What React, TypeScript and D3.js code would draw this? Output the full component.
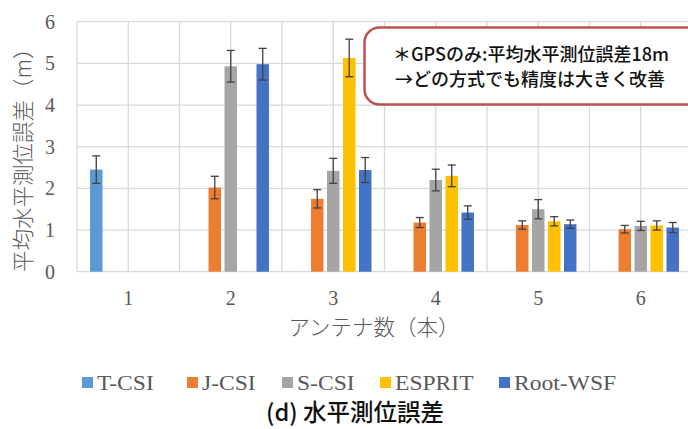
import React from "react";
import * as d3 from "d3";

const categories = ["1", "2", "3", "4", "5", "6"];
const seriesNames = ["T-CSI", "J-CSI", "S-CSI", "ESPRIT", "Root-WSF"];
const seriesColors = ["#5B9BD5", "#ED7D31", "#A5A5A5", "#FFC000", "#4472C4"];
const tCsi = [2.45, null, null, null, null, null];
const jCsi = [null, 2.02, 1.75, 1.18, 1.12, 1.02];
const sCsi = [null, 4.93, 2.42, 2.2, 1.5, 1.1];
const esprit = [null, null, 5.13, 2.3, 1.21, 1.11];
const rootWsf = [null, 4.98, 2.44, 1.42, 1.14, 1.06];
const tCsiErr = [0.33, 0, 0, 0, 0, 0];
const jCsiErr = [0, 0.27, 0.22, 0.12, 0.1, 0.09];
const sCsiErr = [0, 0.38, 0.3, 0.26, 0.23, 0.11];
const espritErr = [0, 0, 0.45, 0.26, 0.11, 0.11];
const rootWsfErr = [0, 0.38, 0.3, 0.16, 0.1, 0.12];
const yTicks = [0, 1, 2, 3, 4, 5, 6];
const yTitle = "平均水平測位誤差（m）";
const xTitle = "アンテナ数（本）";
const chartTitle = "(d) 水平測位誤差";
const noteLine1 = "＊GPSのみ:平均水平測位誤差18m";
const noteLine2 = "→どの方式でも精度は大きく改善";

const values = [tCsi, jCsi, sCsi, esprit, rootWsf];
const errors = [tCsiErr, jCsiErr, sCsiErr, espritErr, rootWsfErr];

export default function App() {
  const W = 688;
  const H = 429;
  const left = 77;
  const right = 692;
  const top = 21.7;
  const bottom = 271.7;

  const x = d3.scaleBand<string>().domain(categories).range([left, right]).paddingInner(0).paddingOuter(0);
  const xs = d3
    .scaleBand<string>()
    .domain(seriesNames)
    .range([0, x.bandwidth()])
    .paddingInner(0.22)
    .paddingOuter(0.815);
  const y = d3.scaleLinear().domain([0, 6]).range([bottom, top]);

  const vGrid: number[] = [];
  categories.forEach((c) => {
    vGrid.push(x(c)!);
    vGrid.push(x(c)! + x.bandwidth() / 2);
  });
  vGrid.push(right);

  const serif = "'Liberation Serif', 'Times New Roman', serif";
  const jp = "'Noto Sans CJK JP', sans-serif";
  const grid = "#d9d9d9";

  const legendX = [82, 187, 282, 380, 499];

  return (
    <svg width={W} height={H} style={{ position: "absolute", left: 0, top: 0, background: "#fff" }}>
      <rect x={0} y={0} width={W} height={H} fill="#fff" />
      {yTicks.map((t) => (
        <line key={"h" + t} x1={left} x2={right} y1={y(t)} y2={y(t)} stroke={grid} strokeWidth={1.3} />
      ))}
      {vGrid.map((gx, i) => (
        <line key={"v" + i} x1={gx} x2={gx} y1={top} y2={bottom} stroke={grid} strokeWidth={1.3} />
      ))}
      {yTicks.map((t) => (
        <text
          key={"yt" + t}
          x={50}
          y={y(t)}
          dy="0.35em"
          textAnchor="middle"
          fontFamily={serif}
          fontSize={20}
          fill="#595959"
        >
          {t}
        </text>
      ))}
      {categories.map((c) => (
        <text
          key={"xt" + c}
          x={x(c)! + x.bandwidth() / 2}
          y={298}
          dy="0.35em"
          textAnchor="middle"
          fontFamily={serif}
          fontSize={20}
          fill="#595959"
        >
          {c}
        </text>
      ))}
      {values.map((vals, si) =>
        vals.map((v, ci) => {
          if (v == null) return null;
          const bx = x(categories[ci])! + xs(seriesNames[si])!;
          const bw = xs.bandwidth();
          const e = errors[si][ci];
          const cx = bx + bw / 2;
          return (
            <g key={"b" + si + "-" + ci}>
              <rect x={bx} y={y(v)} width={bw} height={y(0) - y(v)} fill={seriesColors[si]} />
              <line x1={cx} x2={cx} y1={y(v + e)} y2={y(v - e)} stroke="#404040" strokeWidth={1.3} />
              <line x1={cx - 4} x2={cx + 4} y1={y(v + e)} y2={y(v + e)} stroke="#404040" strokeWidth={1.3} />
              <line x1={cx - 4} x2={cx + 4} y1={y(v - e)} y2={y(v - e)} stroke="#404040" strokeWidth={1.3} />
            </g>
          );
        })
      )}
      <text
        transform={`translate(23, ${(top + bottom) / 2 + 8}) rotate(-90)`}
        textAnchor="middle"
        dy="0.35em"
        fontFamily={jp}
        fontSize={21.5}
        fill="#595959"
        fontWeight={300}
      >
        {yTitle}
      </text>
      <text x={374} y={327} dy="0.35em" textAnchor="middle" fontFamily={jp} fontSize={21.5} fill="#595959" fontWeight={300}>
        {xTitle}
      </text>
      {seriesNames.map((s, i) => (
        <g key={"lg" + i}>
          <rect x={legendX[i]} y={377} width={11} height={11} fill={seriesColors[i]} />
          <text
            transform={`translate(${legendX[i] + 15}, 383) scale(1.15, 1)`}
            dy="0.35em"
            fontFamily={serif}
            fontSize={20.5}
            fill="#595959"
          >
            {s}
          </text>
        </g>
      ))}
      <text x={355} y={413} dy="0.35em" textAnchor="middle" fontFamily={jp} fontSize={23.5} fontWeight={500} fill="#111">
        {chartTitle}
      </text>
      <rect x={364.5} y={27.5} width={345} height={77} rx={15} ry={15} fill="#fff" stroke="#c0504d" strokeWidth={2.5} />
      <text x={393} y={55} dy="0.35em" fontFamily={jp} fontSize={18} fontWeight={500} fill="#111">
        {noteLine1}
      </text>
      <text x={395} y={80} dy="0.35em" fontFamily={jp} fontSize={18} fontWeight={500} fill="#111">
        {noteLine2}
      </text>
    </svg>
  );
}
